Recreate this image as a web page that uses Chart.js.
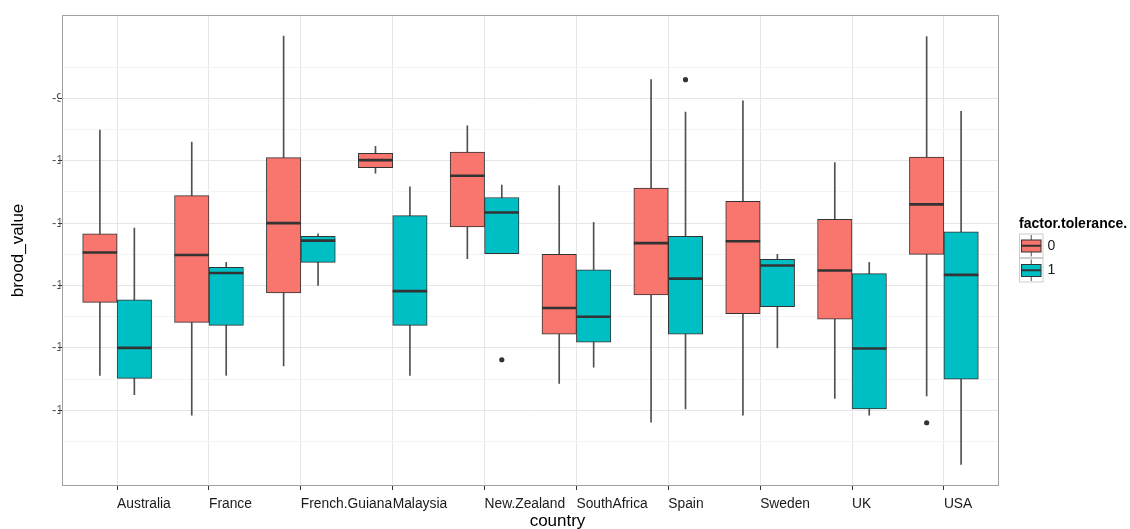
<!DOCTYPE html>
<html>
<head>
<meta charset="utf-8">
<title>brood_value by country</title>
<script src="https://cdn.jsdelivr.net/npm/chart.js@4/dist/chart.umd.min.js"></script>
<style>
  html, body { margin: 0; padding: 0; background: #ffffff; }
  canvas { display: block; }
</style>
</head>
<body>
<canvas id="chart" width="1130" height="529"></canvas>
<script>
// Countries on the x axis
const countries = ['Australia', 'France', 'French.Guiana', 'Malaysia', 'New.Zealand',
                   'SouthAfrica', 'Spain', 'Sweden', 'UK', 'USA'];

// factor.tolerance = 0 : five-number summaries per country
const tol0Low  = [-13.44, -14.08, -13.29, -10.20, -11.57, -13.57, -14.19, -14.08, -13.81, -13.77];
const tol0Q1   = [-12.27, -12.59, -12.12, -10.11, -11.06, -12.78, -12.15, -12.45, -12.54, -11.50];
const tol0Med  = [-11.47, -11.51, -11.00,  -9.99, -10.24, -12.36, -11.32, -11.29, -11.76, -10.70];
const tol0Q3   = [-11.17, -10.56,  -9.95,  -9.88,  -9.86, -11.50, -10.44, -10.65, -10.94,  -9.94];
const tol0High = [ -9.51,  -9.70,  -8.00,  -9.77,  -9.44, -10.40,  -8.70,  -9.04, -10.03,  -8.01];
const tol0OutCountry = ['USA'];
const tol0OutValue   = [-14.20];

// factor.tolerance = 1 : five-number summaries per country
const tol1Low  = [-13.75, -13.44, -12.00, -13.44, -11.49, -13.31, -13.98, -13.00, -14.08, -14.87];
const tol1Q1   = [-13.49, -12.64, -11.63, -12.64, -11.49, -12.91, -12.78, -12.34, -13.98, -13.50];
const tol1Med  = [-13.00, -11.80, -11.28, -12.09, -10.83, -12.50, -11.89, -11.68, -13.01, -11.83];
const tol1Q3   = [-12.23, -11.71, -11.21, -10.88, -10.59, -11.75, -11.21, -11.58, -11.81, -11.14];
const tol1High = [-11.08, -11.63, -11.17, -10.42, -10.39, -10.99,  -9.22, -11.50, -11.63,  -9.21];
const tol1OutCountry = ['New.Zealand', 'Spain'];
const tol1OutValue   = [-13.19, -8.70];

// y axis breaks and their labels
const yMajorTicks = [-14, -13, -12, -11, -10, -9];
const yTickLabels = ['-14', '-13', '-12', '-11', '-10', '-9'];

const xTitle = 'country';
const yTitle = 'brood_value';
const legendTitle = 'factor.tolerance.';
const groupNames  = ['0', '1'];
const groupColors = ['#F8766D', '#00BFC4'];

// ---- layout helpers -------------------------------------------------------
const DODGE = 0.375;                  // width of one box in category units
const xPos = (i, g) => i + (g === 0 ? -DODGE / 2 : DODGE / 2);
const idx = name => countries.indexOf(name);
const FONT = '"Liberation Sans", Arial, Helvetica, sans-serif';
const INK = '#333333';

function boxDataset(g, q1, q3) {
  return {
    type: 'bar', label: groupNames[g], order: 2,
    data: q1.map((v, i) => ({ x: xPos(i, g), y: [v, q3[i]] })),
    backgroundColor: groupColors[g], borderColor: INK, borderWidth: 1,
    borderSkipped: false, grouped: false, categoryPercentage: 1, barPercentage: 1
  };
}
function whiskerDataset(g, lo, hi) {
  return {
    type: 'bar', order: 3,
    data: lo.map((v, i) => ({ x: xPos(i, g), y: [v, hi[i]] })),
    backgroundColor: '#505050', borderWidth: 0, grouped: false,
    categoryPercentage: 1, barPercentage: 1, maxBarThickness: 1
  };
}
function medianDataset(g, med) {
  return {
    type: 'scatter', order: 1,
    data: med.map((v, i) => ({ x: xPos(i, g), y: v })),
    pointStyle: 'line', borderColor: INK, borderWidth: 2.6,
    pointRadius: ctx => {
      const s = ctx.chart.scales.x;
      return (s.getPixelForValue(DODGE) - s.getPixelForValue(0)) / 2;
    }
  };
}
function outlierDataset(g, names, vals) {
  return {
    type: 'scatter', order: 0,
    data: names.map((n, k) => ({ x: xPos(idx(n), g), y: vals[k] })),
    pointStyle: 'circle', pointRadius: 2.6, backgroundColor: INK, borderWidth: 0
  };
}

// y tick labels sit partly under the panel edge, so they are clipped there
const yLabelPlugin = {
  id: 'yLabels',
  afterDraw(chart) {
    const { ctx, chartArea, scales } = chart;
    ctx.save();
    ctx.beginPath();
    ctx.rect(0, 0, chartArea.left - 1.5, chart.height);
    ctx.clip();
    ctx.font = '13px ' + FONT;
    ctx.fillStyle = '#4d4d4d';
    ctx.textAlign = 'left';
    ctx.textBaseline = 'middle';
    yMajorTicks.forEach((v, k) => {
      ctx.fillText(yTickLabels[k], chartArea.left - 10, scales.y.getPixelForValue(v));
    });
    ctx.restore();
  }
};

// x axis title, set a little right of the panel centre
const xTitlePlugin = {
  id: 'xTitle',
  afterDraw(chart) {
    const { ctx, chartArea: a } = chart;
    ctx.save();
    ctx.font = '17px ' + FONT;
    ctx.fillStyle = '#000';
    ctx.textAlign = 'center';
    ctx.textBaseline = 'middle';
    ctx.fillText(xTitle, (a.left + a.right) / 2 + 27, chart.height - 8);
    ctx.restore();
  }
};

// grey panel border
const panelBorder = {
  id: 'panelBorder',
  afterDatasetsDraw(chart) {
    const { ctx, chartArea: a } = chart;
    ctx.save();
    ctx.strokeStyle = '#a0a0a0';
    ctx.lineWidth = 1;
    ctx.strokeRect(a.left + 0.5, a.top + 0.5, a.right - a.left - 1, a.bottom - a.top - 1);
    ctx.restore();
  }
};

// legend with small boxplot keys
const boxLegend = {
  id: 'boxLegend',
  afterDraw(chart) {
    const { ctx, chartArea: a } = chart;
    const x0 = a.right + 20;
    const cy = (a.top + a.bottom) / 2;
    const key = 24.5;
    ctx.save();
    ctx.font = 'bold 14px ' + FONT;
    ctx.fillStyle = '#000';
    ctx.textAlign = 'left';
    ctx.textBaseline = 'middle';
    ctx.fillText(legendTitle, x0, cy - 26.5);
    groupNames.forEach((name, g) => {
      const top = cy - 17 + g * key;
      ctx.fillStyle = '#ffffff';
      ctx.fillRect(x0, top, key, key);
      ctx.strokeStyle = '#cccccc';
      ctx.lineWidth = 1;
      ctx.strokeRect(x0 + 0.5, top + 0.5, key - 1, key - 1);
      const mid = x0 + key / 2;
      ctx.strokeStyle = '#505050';
      ctx.beginPath();
      ctx.moveTo(mid, top + 1.5); ctx.lineTo(mid, top + key - 1.5);
      ctx.stroke();
      ctx.strokeStyle = INK;
      ctx.fillStyle = groupColors[g];
      ctx.fillRect(x0 + 2.5, top + 6.5, key - 5, key - 12.5);
      ctx.strokeRect(x0 + 2.5, top + 6.5, key - 5, key - 12.5);
      ctx.lineWidth = 2;
      ctx.beginPath();
      ctx.moveTo(x0 + 2.5, top + key / 2); ctx.lineTo(x0 + key - 2.5, top + key / 2);
      ctx.stroke();
      ctx.font = '14px ' + FONT;
      ctx.fillStyle = '#1a1a1a';
      ctx.fillText(name, x0 + key + 4, top + key / 2);
    });
    ctx.restore();
  }
};

const yGridTicks = [];
for (let k = -29; k <= -17; k++) yGridTicks.push(k / 2);

new Chart(document.getElementById('chart'), {
  type: 'bar',
  data: {
    datasets: [
      whiskerDataset(0, tol0Low, tol0High),
      whiskerDataset(1, tol1Low, tol1High),
      boxDataset(0, tol0Q1, tol0Q3),
      boxDataset(1, tol1Q1, tol1Q3),
      medianDataset(0, tol0Med),
      medianDataset(1, tol1Med),
      outlierDataset(0, tol0OutCountry, tol0OutValue),
      outlierDataset(1, tol1OutCountry, tol1OutValue)
    ]
  },
  options: {
    responsive: false,
    animation: false,
    devicePixelRatio: 1,
    events: [],
    layout: { padding: { top: 15, right: 131, bottom: 0, left: 0 } },
    plugins: { legend: { display: false }, tooltip: { enabled: false } },
    scales: {
      x: {
        type: 'linear', min: -0.6, max: 9.6, offset: false,
        afterBuildTicks: s => { s.ticks = countries.map((c, i) => ({ value: i })); },
        afterFit: s => { s.height = 43; },
        border: { display: false },
        grid: { offset: false, color: '#e6e6e6', lineWidth: 1, tickColor: INK, tickLength: 4, drawTicks: true },
        ticks: {
          callback: v => countries[v], align: 'start', autoSkip: false,
          maxRotation: 0, minRotation: 0, padding: 6,
          color: '#1a1a1a', font: { family: FONT, size: 13.8 }
        },
        title: { display: false }
      },
      y: {
        type: 'linear', min: -15.214, max: -7.664,
        afterBuildTicks: s => { s.ticks = yGridTicks.map(v => ({ value: v })); },
        afterFit: s => { s.width = 62; },
        border: { display: false },
        grid: {
          color: c => Number.isInteger(c.tick.value) ? '#e6e6e6' : '#f4f4f4',
          tickColor: c => Number.isInteger(c.tick.value) ? INK : 'rgba(0,0,0,0)',
          tickLength: 4, drawTicks: true
        },
        ticks: { display: false },
        title: {
          display: true, text: yTitle, color: '#000',
          font: { family: FONT, size: 17 }, padding: { top: 8, bottom: 0 }
        }
      }
    }
  },
  plugins: [yLabelPlugin, xTitlePlugin, panelBorder, boxLegend]
});
</script>
</body>
</html>
